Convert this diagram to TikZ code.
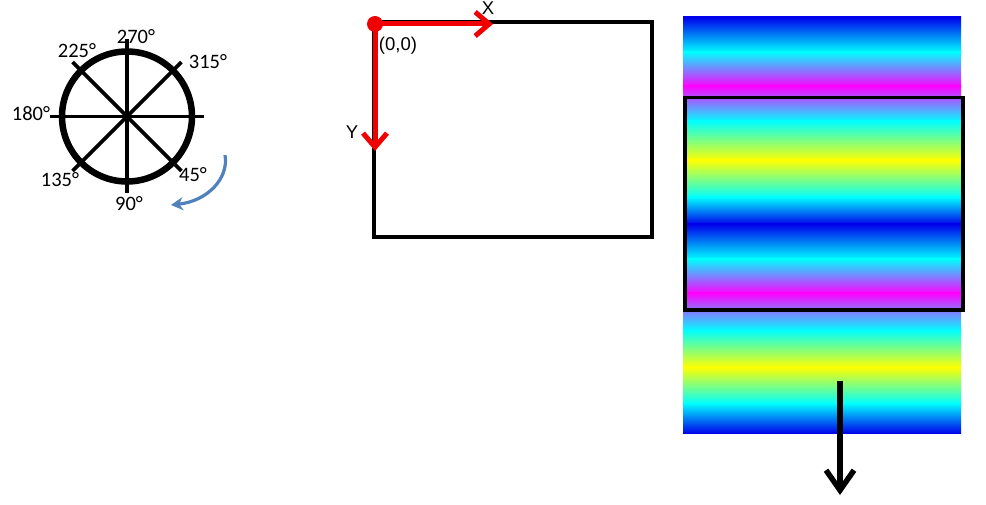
\documentclass[tikz,border=0pt]{standalone}
\usepackage{fontspec}
\setmainfont{Carlito}
\newfontfamily\arialf{Liberation Sans}
\usetikzlibrary{arrows.meta}
\definecolor{gblue}{RGB}{0,0,235}
\definecolor{gcyan}{RGB}{0,255,255}
\definecolor{gmag}{RGB}{255,0,255}
\definecolor{gyel}{RGB}{255,255,0}
\definecolor{axred}{RGB}{240,0,0}
\definecolor{rotblue}{RGB}{79,129,189}
\tikzset{
  deglabel/.style={inner sep=0pt, font=\fontsize{20.5}{24}\selectfont},
  axlabel/.style={inner sep=0pt, font=\arialf\fontsize{18.5}{22}\selectfont},
  spoke/.style={line width=3.6pt, black},
  redaxis/.style={line width=5pt, axred, -{Straight Barb[length=14pt,width=24pt]}},
  frame/.style={line width=3.6pt, black},
}
\begin{document}
\begin{tikzpicture}[x=1pt,y=1pt]
\useasboundingbox[fill=white] (0,0) rectangle (986,-505);

% ---------- angle circle ----------
\coordinate (c) at (127,-116.5);
\foreach \a in {0,45,90,135}
  \draw[spoke] ([shift={(\a:77)}]c) -- ([shift={(\a+180:77)}]c);
\draw[line width=6.5pt] (c) circle[radius=65];
\node[deglabel] (l270) at (136,-36.5) {270°};
\node[deglabel] (l225) at (77,-51) {225°};
\node[deglabel] (l315) at (208,-61.5) {315°};
\node[deglabel] (l180) at (31,-113.5) {180°};
\node[deglabel] (l135) at (60,-180) {135°};
\node[deglabel] (l90)  at (129,-203.5) {90°};
\node[deglabel] (l45)  at (193,-175) {45°};
\coordinate (rs) at (225,-155);
\coordinate (re) at (171,-205);
\draw[rotblue, line width=3.2pt, -{Stealth[length=12pt,width=13pt]}]
  (rs) .. controls (229,-178) and (208,-201) .. (re);

% ---------- screen rectangle with axes ----------
\draw[frame] (374,-22) rectangle (652,-237);
\coordinate (o) at (375,-24);
\coordinate (xe) at (493,-24);
\coordinate (ye) at (375,-151);
\draw[redaxis] (o) -- (xe);
\draw[redaxis] (o) -- (ye);
\fill[axred] (o) circle[radius=8];
\node[axlabel] (lx) at (488,-8) {X};
\node[axlabel] (lo) at (398,-46) {(0,0)};
\node[axlabel] (ly) at (352,-132) {Y};

% ---------- gradient strip ----------
\foreach \ya/\ca/\yb/\cb in {17/gblue/52/gcyan, 52/gcyan/86/gmag, 86/gmag/121/gcyan,
    121/gcyan/160/gyel, 160/gyel/197/gcyan, 197/gcyan/224/gblue,
    224/gblue/259/gcyan, 259/gcyan/293/gmag, 293/gmag/330/gcyan,
    330/gcyan/367/gyel, 367/gyel/403/gcyan, 403/gcyan/433/gblue}
  \shade[top color=\ca, bottom color=\cb] (683,-\ya) rectangle (961,-\yb-0.6);
\draw[frame] (685,-97.5) rectangle (963,-310);
\coordinate (as) at (840,-381);
\coordinate (ae) at (840,-495);
\draw[line width=5.5pt, -{Straight Barb[length=20pt,width=28pt]}] (as) -- (ae);
\end{tikzpicture}
\end{document}
